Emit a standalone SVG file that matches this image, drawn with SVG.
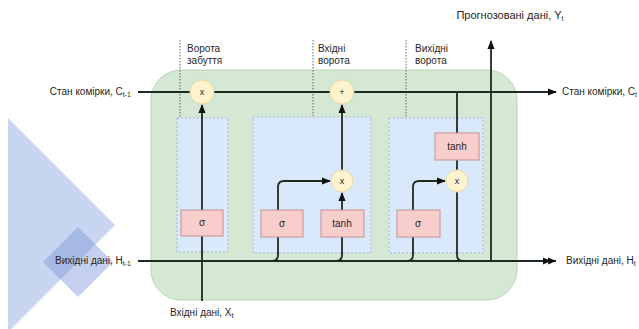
<svg xmlns="http://www.w3.org/2000/svg" width="639" height="329" viewBox="0 0 639 329">
<defs>
<style>
text{font-family:"Liberation Sans",Arial,sans-serif;font-size:10px;fill:#262626}
.gate{fill:#dae8fc;stroke:#8fa9d4;stroke-width:0.8;stroke-dasharray:2 2}
.op{fill:#f8cecc;stroke:#c58f8c;stroke-width:1}
.pt{fill:#fff2cc;stroke:#e8d9a8;stroke-width:1}
.ln{fill:none;stroke:#1e2a22;stroke-width:1.8}
.dot{fill:none;stroke:#666;stroke-width:1;stroke-dasharray:1.5 1.5}
.c{text-anchor:middle}
.sub{font-size:7px}
.sm{font-size:9px}
</style>
<marker id="arr" viewBox="0 0 10 10" refX="9" refY="5" markerWidth="9" markerHeight="9" markerUnits="userSpaceOnUse" orient="auto"><path d="M0,1 L10,5 L0,9 z" fill="#111"/></marker>
<marker id="arr2" viewBox="0 0 16 10" refX="15" refY="5" markerWidth="14" markerHeight="9" markerUnits="userSpaceOnUse" orient="auto"><path d="M0,1 L9,5 L0,9 z M6,1 L15,5 L6,9 z" fill="#111"/></marker>
</defs>
<rect width="639" height="329" fill="#fff"/>
<g id="decor">
<polygon points="8,118 115,225 8,332" fill="#c8d5f0"/>
<polygon points="78,227 113,262 78,297 43,262" fill="#7d97d6" fill-opacity="0.45"/>
</g>
<g id="cell">
<rect x="151" y="70" width="366" height="230" rx="30" fill="#d5e8d4" stroke="#b9d7b0" stroke-width="1"/>
</g>
<g id="forget-gate"><rect class="gate" x="177" y="118" width="51" height="134"/></g>
<g id="input-gate"><rect class="gate" x="253" y="117" width="118" height="136"/></g>
<g id="output-gate"><rect class="gate" x="389" y="118" width="94" height="135"/></g>
<g id="dividers">
<line class="dot" x1="180" y1="40" x2="180" y2="117"/>
<line class="dot" x1="313" y1="40" x2="313" y2="116"/>
<line class="dot" x1="406" y1="40" x2="406" y2="117"/>
</g>
<g id="connectors">
<line class="ln" x1="138" y1="92" x2="556" y2="92" marker-end="url(#arr)"/>
<line class="ln" x1="138" y1="261" x2="556" y2="261" marker-end="url(#arr2)"/>
<line class="ln" x1="202" y1="301" x2="202" y2="105" marker-end="url(#arr)"/>
<path class="ln" d="M272,261 Q278,261 278,255 V187 Q278,181 284,181 H330" marker-end="url(#arr)"/>
<path class="ln" d="M336,261 Q342,261 342,255 V193" marker-end="url(#arr)"/>
<line class="ln" x1="342" y1="170" x2="342" y2="105" marker-end="url(#arr)"/>
<path class="ln" d="M407,261 Q413,261 413,255 V187 Q413,181 419,181 H445" marker-end="url(#arr)"/>
<line class="ln" x1="457" y1="92" x2="457" y2="170"/>
<path class="ln" d="M457,192 V255 Q457,261 463,261"/>
<line class="ln" x1="491" y1="261" x2="491" y2="41" marker-end="url(#arr)"/>
</g>
<g id="forget-mult"><circle class="pt" cx="202" cy="92" r="12"/><text class="c sm" x="202" y="95">x</text></g>
<g id="sigma1"><rect class="op" x="181" y="210" width="42" height="26"/><text class="c" x="202" y="226">σ</text></g>
<g id="sigma2"><rect class="op" x="261" y="210" width="42" height="27"/><text class="c" x="282" y="227">σ</text></g>
<g id="tanh2"><rect class="op" x="321" y="210" width="43" height="27"/><text class="c" x="342" y="227">tanh</text></g>
<g id="input-mult"><circle class="pt" cx="342" cy="181" r="11"/><text class="c sm" x="342" y="184">x</text></g>
<g id="add"><circle class="pt" cx="342" cy="92" r="12"/><text class="c sm" x="342" y="95">+</text></g>
<g id="sigma3"><rect class="op" x="397" y="210" width="43" height="27"/><text class="c" x="418" y="227">σ</text></g>
<g id="tanh3"><rect class="op" x="435" y="133" width="44" height="27"/><text class="c" x="457" y="150">tanh</text></g>
<g id="output-mult"><circle class="pt" cx="457" cy="181" r="11"/><text class="c sm" x="457" y="184">x</text></g>
<g id="labels">
<text x="187" y="52">Ворота</text>
<text x="187" y="64">забуття</text>
<text x="318" y="52">Вхідні</text>
<text x="318" y="64">ворота</text>
<text x="415" y="52">Вихідні</text>
<text x="415" y="64">ворота</text>
<text x="131" y="95" text-anchor="end">Стан комірки, C<tspan class="sub" dy="2">t-1</tspan></text>
<text x="562" y="95">Стан комірки, C<tspan class="sub" dy="2">t</tspan></text>
<text x="131" y="264" text-anchor="end">Вихідні дані, H<tspan class="sub" dy="2">t-1</tspan></text>
<text x="566" y="264">Вихідні дані, H<tspan class="sub" dy="2">t</tspan></text>
<text x="170" y="316">Вхідні дані, X<tspan class="sub" dy="2">t</tspan></text>
<text x="510" y="19" class="c" style="font-size:11px">Прогнозовані дані, Y<tspan class="sub" dy="2">t</tspan></text>
</g>
</svg>
